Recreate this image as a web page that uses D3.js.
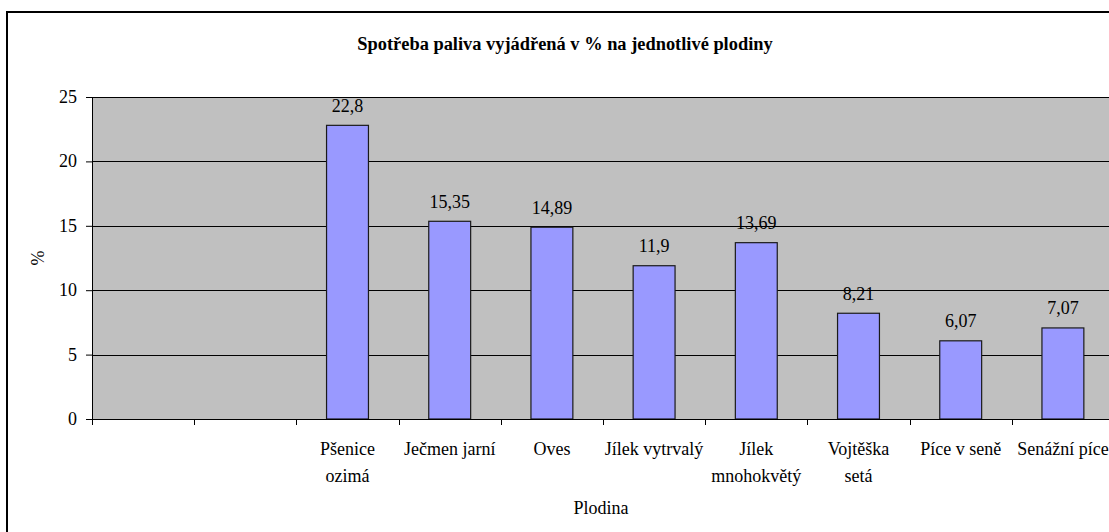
<!DOCTYPE html>
<html><head><meta charset="utf-8"><script src="https://cdn.jsdelivr.net/npm/d3@7"></script></head>
<body style="margin:0">
<svg id="s" width="1109" height="532"></svg>
<script>
// Category labels ("\n" marks a line break), two leading empty slots
const categories = ["", "", "Pšenice\nozimá", "Ječmen jarní", "Oves", "Jílek vytrvalý",
  "Jílek\nmnohokvětý", "Vojtěška\nsetá", "Píce v seně", "Senážní píce"];
// Fuel consumption share per crop (%)
const values = [null, null, 22.8, 15.35, 14.89, 11.9, 13.69, 8.21, 6.07, 7.07];
// Y axis tick values
const yTicks = [0, 5, 10, 15, 20, 25];

const title = "Spotřeba paliva vyjádřená v % na jednotlivé plodiny";
const xTitle = "Plodina";
const yTitle = "%";

const FONT = "Liberation Serif";
const svg = d3.select("#s");
const W = 1109, H = 532;

const plot = { left: 92, top: 97, right: 1114, bottom: 419 };

function txt(sel, size) {
  return sel.style("font-family", FONT).attr("font-size", size).attr("fill", "#000");
}

// Outer chart frame
svg.append("rect")
  .attr("x", 7).attr("y", 12)
  .attr("width", W + 20).attr("height", H + 20)
  .attr("fill", "#fff").attr("stroke", "#000").attr("stroke-width", 2);

const idx = categories.map((d, i) => i);
const slot = d3.scaleBand().domain(idx).range([plot.left, plot.right]).padding(0);
const y = d3.scaleLinear().domain([0, 25]).range([plot.bottom, plot.top]);
const barW = slot.bandwidth() * 0.41;

// Plot background
svg.append("rect")
  .attr("x", plot.left).attr("y", plot.top)
  .attr("width", plot.right - plot.left).attr("height", plot.bottom - plot.top)
  .attr("fill", "#c0c0c0");

// Horizontal gridlines
svg.append("g")
  .selectAll("line")
  .data(yTicks.filter(t => t > 0))
  .join("line")
  .attr("x1", plot.left).attr("x2", plot.right)
  .attr("y1", d => Math.round(y(d)) + 0.5).attr("y2", d => Math.round(y(d)) + 0.5)
  .attr("stroke", "#000").attr("stroke-width", 1);

// Bars
const data = idx.filter(i => values[i] != null);
svg.append("g")
  .selectAll("rect")
  .data(data)
  .join("rect")
  .attr("x", i => slot(i) + (slot.bandwidth() - barW) / 2)
  .attr("y", i => y(values[i]))
  .attr("width", barW)
  .attr("height", i => y(0) - y(values[i]))
  .attr("fill", "#9999ff")
  .attr("stroke", "#1a1a1a").attr("stroke-width", 1.2);

// Value labels
data.forEach(i => {
  txt(svg.append("text"), 18)
    .attr("x", slot(i) + slot.bandwidth() / 2)
    .attr("y", y(values[i]) - 13.5)
    .attr("text-anchor", "middle")
    .text(String(values[i]).replace(".", ","));
});

// Y axis line and ticks
const yAxis = d3.axisLeft(y).tickValues(yTicks).tickSize(6).tickFormat("");
const gy = svg.append("g")
  .attr("transform", `translate(${plot.left},0)`)
  .call(yAxis);
gy.select(".domain").attr("stroke", "#000").attr("d", `M0.5,${plot.top}V${plot.bottom}`);
gy.selectAll(".tick line").attr("stroke", "#000");
yTicks.forEach(t => {
  txt(svg.append("text"), 18)
    .attr("x", plot.left - 15)
    .attr("y", y(t) + 6)
    .attr("text-anchor", "end")
    .text(d3.format("d")(t));
});

// X axis baseline and slot boundary ticks
svg.append("line")
  .attr("x1", plot.left).attr("x2", plot.right)
  .attr("y1", plot.bottom + 0.5).attr("y2", plot.bottom + 0.5)
  .attr("stroke", "#000");
svg.append("g")
  .selectAll("line")
  .data(idx)
  .join("line")
  .attr("x1", i => Math.round(slot(i)) + 0.5).attr("x2", i => Math.round(slot(i)) + 0.5)
  .attr("y1", plot.bottom).attr("y2", plot.bottom + 6)
  .attr("stroke", "#000");

// Category labels, one text per line
idx.forEach(i => {
  categories[i].split("\n").forEach((ln, k) => {
    if (!ln) return;
    txt(svg.append("text"), 18)
      .attr("x", slot(i) + slot.bandwidth() / 2)
      .attr("y", 455 + k * 27)
      .attr("text-anchor", "middle")
      .text(ln);
  });
});

// Titles
txt(svg.append("text"), 18.4)
  .attr("x", 565).attr("y", 50)
  .attr("text-anchor", "middle")
  .attr("font-weight", "bold")
  .text(title);

txt(svg.append("text"), 18)
  .attr("x", 601).attr("y", 514)
  .attr("text-anchor", "middle")
  .text(xTitle);

txt(svg.append("text"), 18)
  .attr("transform", "translate(44,258) rotate(-90)")
  .attr("text-anchor", "middle")
  .text(yTitle);
</script></body></html>
